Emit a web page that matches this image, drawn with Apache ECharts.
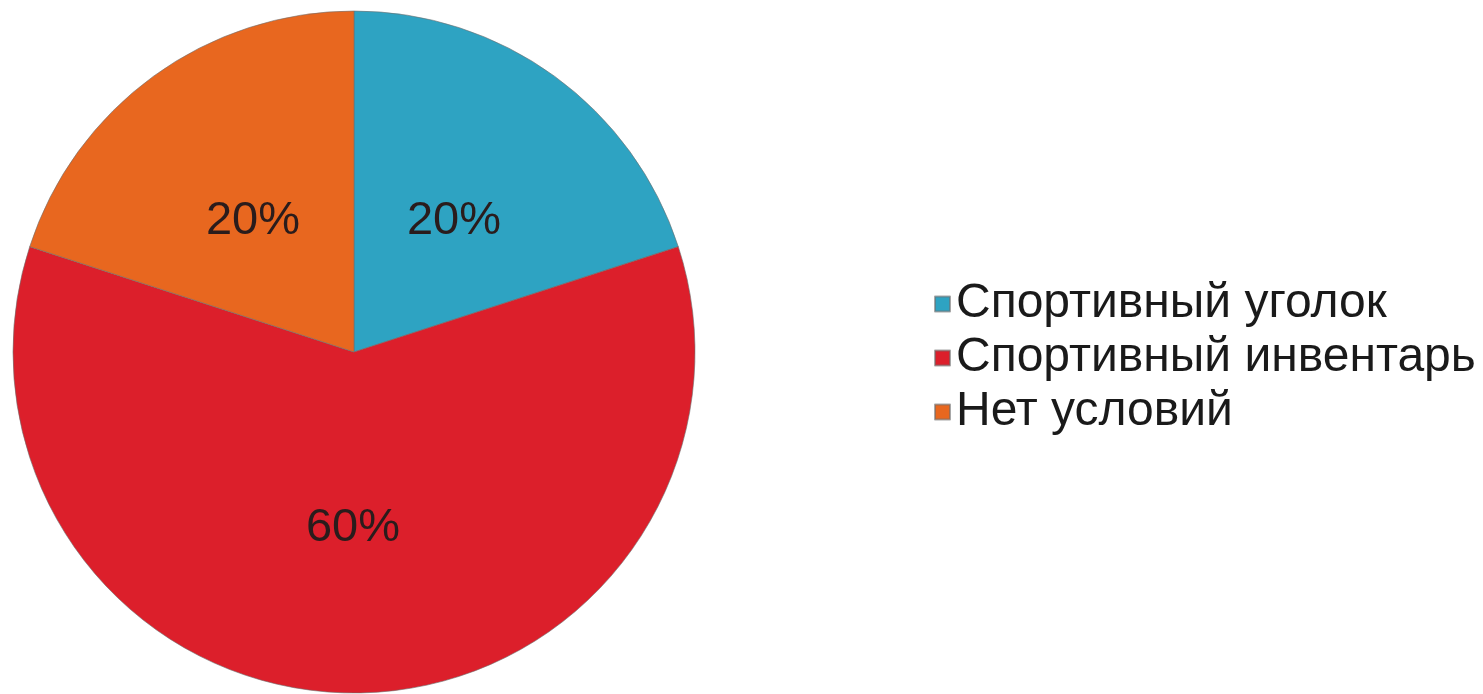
<!DOCTYPE html>
<html>
<head>
<meta charset="utf-8">
<style>
  html, body { margin: 0; padding: 0; background: #fff; }
  #chart { width: 1483px; height: 694px; }
</style>
<script src="https://cdn.jsdelivr.net/npm/echarts@6/dist/echarts.min.js"></script>
</head>
<body>
<div id="chart"></div>
<script>
const categories = ['Спортивный уголок', 'Спортивный инвентарь', 'Нет условий']
const values = [20, 60, 20]
const colors = ['#2ea3c2', '#dc1f2b', '#e8671f']
// small nudges so the labels sit where the original has them
const labelOffsets = [[-2, 9], [-1, 3], [1, 9]]

const chart = echarts.init(document.getElementById('chart'))

chart.setOption({
  animation: false,
  color: colors,
  legend: {
    orient: 'vertical',
    left: 929,
    top: 275,
    itemWidth: 15,
    itemHeight: 15,
    itemGap: 6,
    icon: 'rect',
    textStyle: {
      fontFamily: 'Liberation Sans, Arial, sans-serif',
      fontSize: 48,
      color: '#1a1a1a',
      padding: [0, 0, 0, 1]
    },
    data: categories
  },
  series: [{
    type: 'pie',
    center: [354, 352],
    radius: 341,
    startAngle: 90,
    clockwise: true,
    silent: true,
    itemStyle: {
      borderColor: 'rgba(110,110,110,0.6)',
      borderWidth: 1
    },
    label: {
      position: 'inside',
      formatter: '{d}%',
      fontFamily: 'Liberation Sans, Arial, sans-serif',
      fontSize: 47,
      color: '#2a1c1c'
    },
    labelLine: { show: false },
    data: categories.map((name, i) => ({
      name,
      value: values[i],
      label: { offset: labelOffsets[i] }
    }))
  }]
})
</script>
</body>
</html>
